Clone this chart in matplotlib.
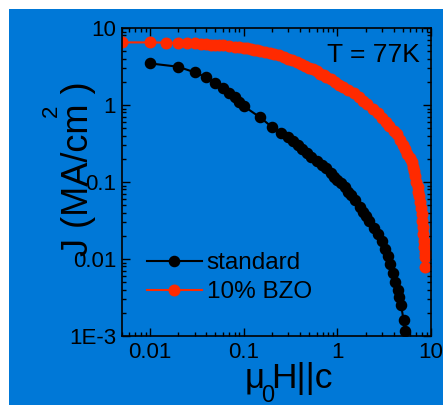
import matplotlib
matplotlib.use("Agg")
import matplotlib.pyplot as plt
from matplotlib.patches import Rectangle
from matplotlib.ticker import LogLocator, NullFormatter, FixedLocator, FixedFormatter

plt.rcParams["font.family"] = ["Liberation Sans", "DejaVu Sans"]

# ---- data -------------------------------------------------------------
std_field = [0.01, 0.02, 0.03, 0.04, 0.05, 0.06, 0.07, 0.08, 0.09, 0.10,
             0.15, 0.20, 0.25, 0.30, 0.34, 0.38, 0.42, 0.47, 0.53, 0.60,
             0.68, 0.76, 0.85, 0.93, 1.0, 1.1, 1.2, 1.3, 1.4, 1.55,
             1.73, 1.9, 2.0, 2.2, 2.45, 2.75, 3.0, 3.2, 3.45, 3.65,
             3.9, 4.1, 4.4, 4.6, 4.8, 5.1, 5.3]
std_jc = [3.47, 3.14, 2.66, 2.29, 1.95, 1.65, 1.42, 1.26, 1.10, 0.97,
          0.69, 0.52, 0.43, 0.38, 0.34, 0.30, 0.27, 0.236, 0.21, 0.185,
          0.165, 0.15, 0.13, 0.117, 0.105, 0.096, 0.085, 0.075, 0.067, 0.058,
          0.048, 0.041, 0.036, 0.031, 0.025, 0.021, 0.017, 0.0135, 0.011, 0.0085,
          0.0065, 0.0051, 0.0040, 0.0032, 0.0025, 0.0016, 0.00115]

bzo_field = [0.005, 0.010, 0.015, 0.020, 0.025, 0.030, 0.035, 0.040, 0.045, 0.050,
             0.055, 0.060, 0.070, 0.080, 0.090, 0.10, 0.11, 0.12, 0.13, 0.14,
             0.15, 0.17, 0.19, 0.21, 0.24, 0.27, 0.30, 0.33, 0.37, 0.41,
             0.45, 0.50, 0.55, 0.60, 0.66, 0.72, 0.76, 0.85, 0.95, 1.05,
             1.15, 1.3, 1.5, 1.7, 1.9, 2.1, 2.4, 2.7, 3.0, 3.3,
             3.6, 4.0, 4.3, 4.7, 5.0, 5.3, 5.6, 5.9, 6.2, 6.4,
             6.6, 6.8, 7.0, 7.2, 7.35, 7.5, 7.65, 7.8, 7.95, 8.05,
             8.15, 8.25, 8.35, 8.45, 8.55, 8.6, 8.6]
bzo_jc = [6.5, 6.5, 6.45, 6.4, 6.35, 6.3, 6.25, 6.2, 6.1, 6.05,
          6.0, 5.95, 5.85, 5.75, 5.65, 5.55, 5.45, 5.35, 5.25, 5.15,
          5.05, 4.9, 4.75, 4.6, 4.4, 4.2, 4.0, 3.8, 3.6, 3.4,
          3.25, 3.05, 2.9, 2.75, 2.55, 2.42, 2.33, 2.15, 1.98, 1.84,
          1.72, 1.57, 1.42, 1.27, 1.14, 1.03, 0.88, 0.78, 0.68, 0.60,
          0.53, 0.46, 0.42, 0.35, 0.30, 0.27, 0.23, 0.205, 0.18, 0.155,
          0.14, 0.12, 0.10, 0.085, 0.075, 0.065, 0.055, 0.046, 0.038, 0.031,
          0.026, 0.021, 0.017, 0.0145, 0.012, 0.0105, 0.0078]

x_ticks = [0.01, 0.1, 1, 10]
x_tick_labels = ["0.01", "0.1", "1", "10"]
y_ticks = [1e-3, 1e-2, 1e-1, 1, 10]
y_tick_labels = ["1E-3", "0.01", "0.1", "1", "10"]

# ---- style ------------------------------------------------------------
BLUE = "#0078d7"
RED = "#ff2a00"
W, H = 443, 405


def fx(px):
    return px / W


def fy(py):
    return 1 - py / H


fig = plt.figure(figsize=(W / 100, H / 100), dpi=100)
fig.patch.set_facecolor("white")
fig.patches.append(Rectangle((fx(9), 0), 1 - fx(9), fy(9), transform=fig.transFigure,
                             facecolor=BLUE, edgecolor="none", zorder=-10))

ax = fig.add_axes([fx(121.7), fy(336), fx(431) - fx(121.7), fy(28) - fy(336)])
ax.set_facecolor("none")
ax.set_xscale("log")
ax.set_yscale("log")
ax.set_xlim(0.005, 10)
ax.set_ylim(1e-3, 10)

ax.plot(std_field, std_jc, "-o", color="black", lw=1.5, ms=7.3, label="standard", zorder=3)
ax.plot(bzo_field, bzo_jc, "-o", color=RED, lw=1.5, ms=7.6, label="10% BZO", zorder=2)

ax.xaxis.set_major_locator(FixedLocator(x_ticks))
ax.xaxis.set_major_formatter(FixedFormatter(x_tick_labels))
ax.yaxis.set_major_locator(FixedLocator(y_ticks))
ax.yaxis.set_major_formatter(FixedFormatter(y_tick_labels))
for axis in (ax.xaxis, ax.yaxis):
    axis.set_minor_locator(LogLocator(base=10, subs=range(2, 10), numticks=20))
    axis.set_minor_formatter(NullFormatter())

ax.tick_params(which="both", direction="in", top=True, right=True, width=1.0, color="black")
ax.tick_params(which="major", length=6, labelsize=16, pad=4)
ax.tick_params(which="minor", length=3)
for s in ax.spines.values():
    s.set_linewidth(1.2)

ax.text(fx(420), fy(61.5), "T = 77K", transform=fig.transFigure, ha="right",
        va="baseline", fontsize=19)

ax.legend(loc="upper left", bbox_to_anchor=(fx(147), fy(252)), bbox_transform=fig.transFigure,
          frameon=False, fontsize=17.5, handlelength=2.26, handletextpad=0.2,
          labelspacing=0.3, borderpad=0, borderaxespad=0, numpoints=1)

# axis titles
fig.text(fx(88), fy(169), "J (MA/cm )", rotation=90, rotation_mode="anchor",
         ha="center", va="baseline", fontsize=26)
fig.text(fx(57), fy(111), "2", rotation=90, rotation_mode="anchor",
         ha="center", va="baseline", fontsize=16)
fig.text(fx(245), fy(388), "μ", ha="left", va="baseline", fontsize=25)
fig.text(fx(261.5), fy(402), "0", ha="left", va="baseline", fontsize=17)
fig.text(fx(271.5), fy(388), "H||c", ha="left", va="baseline", fontsize=25.5)

fig.savefig("out.png", dpi=100)
